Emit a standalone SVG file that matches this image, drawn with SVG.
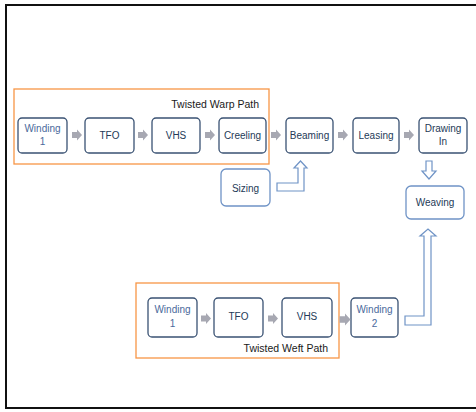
<svg xmlns="http://www.w3.org/2000/svg" width="476" height="412" viewBox="0 0 476 412">
  <style>
    .frame { fill: none; stroke: #111; stroke-width: 2; }
    .group { fill: none; stroke: #F79646; stroke-width: 1.3; }
    .box { fill: #fff; stroke: #3A5273; stroke-width: 1.3; }
    .box-lt { fill: #fff; stroke: #6F93C6; stroke-width: 1.3; }
    .lbl { font-family: "Liberation Sans", Arial, sans-serif; font-size: 10px; fill: #243A57; text-anchor: middle; }
    .lbl-bl { fill: #4A6A9C; }
    .grp-lbl { font-family: "Liberation Sans", Arial, sans-serif; font-size: 10.5px; fill: #1a1a1a; text-anchor: end; }
    .step { fill: #A7A8B2; }
    .hollow { fill: #fff; stroke: #6F93C6; stroke-width: 1.2; stroke-linejoin: miter; }
  </style>
  <defs>
    <path id="step-arrow" d="M0,-3 H5 V-5.5 L10,0 L5,5.5 V3 H0 Z"/>
  </defs>

  <rect class="frame" x="6" y="5" width="480" height="403"/>

  <!-- path groupings -->
  <g id="warp-path">
    <rect class="group" x="14" y="89" width="255" height="75"/>
    <text class="grp-lbl" x="259" y="108">Twisted Warp Path</text>
  </g>
  <g id="weft-path">
    <rect class="group" x="136" y="283" width="203" height="75"/>
    <text class="grp-lbl" x="328" y="352">Twisted Weft Path</text>
  </g>

  <!-- warp row -->
  <g id="warp-winding1">
    <rect class="box" x="18" y="118" width="49" height="35" rx="4"/>
    <text class="lbl lbl-bl" x="42.5" y="132">Winding</text>
    <text class="lbl lbl-bl" x="42.5" y="145">1</text>
  </g>
  <g id="warp-tfo">
    <rect class="box" x="85" y="118" width="49" height="35" rx="4"/>
    <text class="lbl" x="109.5" y="139">TFO</text>
  </g>
  <g id="warp-vhs">
    <rect class="box" x="152" y="118" width="48" height="35" rx="4"/>
    <text class="lbl" x="176" y="139">VHS</text>
  </g>
  <g id="creeling">
    <rect class="box" x="219" y="118" width="47" height="35" rx="4"/>
    <text class="lbl" x="242.5" y="139">Creeling</text>
  </g>
  <g id="beaming">
    <rect class="box" x="286" y="118" width="47" height="35" rx="4"/>
    <text class="lbl" x="309.5" y="139">Beaming</text>
  </g>
  <g id="leasing">
    <rect class="box" x="353" y="118" width="46" height="35" rx="4"/>
    <text class="lbl" x="376" y="139">Leasing</text>
  </g>
  <g id="drawing-in">
    <rect class="box" x="419" y="118" width="48" height="35" rx="4"/>
    <text class="lbl" x="443" y="132">Drawing</text>
    <text class="lbl" x="443" y="145">In</text>
  </g>
  <g id="sizing">
    <rect class="box-lt" x="221" y="169" width="49" height="37" rx="5"/>
    <text class="lbl" x="245.5" y="192">Sizing</text>
  </g>
  <g id="weaving">
    <rect class="box-lt" x="406" y="186" width="58" height="33" rx="5"/>
    <text class="lbl" x="435" y="206">Weaving</text>
  </g>

  <!-- weft row -->
  <g id="weft-winding1">
    <rect class="box" x="148" y="298" width="49" height="39" rx="4"/>
    <text class="lbl lbl-bl" x="172.5" y="313">Winding</text>
    <text class="lbl lbl-bl" x="172.5" y="327">1</text>
  </g>
  <g id="weft-tfo">
    <rect class="box" x="214" y="298" width="49" height="39" rx="4"/>
    <text class="lbl" x="238.5" y="320">TFO</text>
  </g>
  <g id="weft-vhs">
    <rect class="box" x="282" y="298" width="50" height="39" rx="4"/>
    <text class="lbl" x="307" y="320">VHS</text>
  </g>
  <g id="weft-winding2">
    <rect class="box" x="351" y="298" width="47" height="39" rx="4"/>
    <text class="lbl lbl-bl" x="374.5" y="313">Winding</text>
    <text class="lbl lbl-bl" x="374.5" y="327">2</text>
  </g>

  <!-- connectors -->
  <g id="connectors">
    <use href="#step-arrow" class="step" x="72" y="135"/>
    <use href="#step-arrow" class="step" x="138" y="135"/>
    <use href="#step-arrow" class="step" x="205" y="135"/>
    <use href="#step-arrow" class="step" x="271" y="135"/>
    <use href="#step-arrow" class="step" x="338" y="135"/>
    <use href="#step-arrow" class="step" x="404" y="135"/>

    <use href="#step-arrow" class="step" x="201" y="318.5"/>
    <use href="#step-arrow" class="step" x="268" y="318.5"/>
    <use href="#step-arrow" class="step" x="339.5" y="319.5" transform="translate(339.5 319.5) scale(1.1) translate(-339.5 -319.5)"/>

    <!-- sizing feeds beaming -->
    <path class="hollow" d="M277,183 H298 V168 H294 L300.5,161 L307,168 H304 V191 H277 Z"/>
    <!-- drawing-in to weaving -->
    <path class="hollow" d="M426,161 H432 V171 H436 L429,179 L422,171 H426 Z"/>
    <!-- weft supply up to weaving -->
    <path class="hollow" d="M405,316 H424 V236 H420 L428,229 L436,236 H431 V325 H405 Z"/>
  </g>
</svg>
